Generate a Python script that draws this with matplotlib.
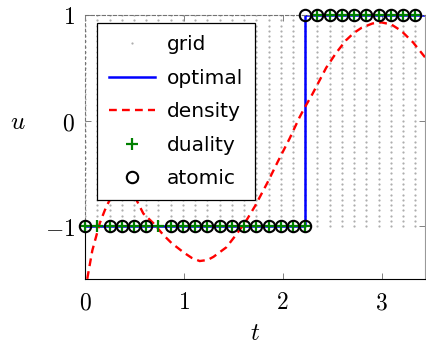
import matplotlib
matplotlib.use("Agg")
import matplotlib.pyplot as plt
import numpy as np

plt.rcParams['mathtext.fontset'] = 'cm'

# ---- data ----
t_nodes = [0.000, 0.124, 0.248, 0.371, 0.495, 0.619, 0.743, 0.867, 0.990,
           1.114, 1.238, 1.362, 1.486, 1.609, 1.733, 1.857, 1.981, 2.105,
           2.228, 2.352, 2.476, 2.600, 2.724, 2.847, 2.971, 3.095, 3.219, 3.343]
u_levels = [-1.00, -0.95, -0.90, -0.85, -0.80, -0.75, -0.70, -0.65, -0.60,
            -0.55, -0.50, -0.45, -0.40, -0.35, -0.30, -0.25, -0.20, -0.15,
            -0.10, -0.05, 0.00, 0.05, 0.10, 0.15, 0.20, 0.25, 0.30, 0.35,
            0.40, 0.45, 0.50, 0.55, 0.60, 0.65, 0.70, 0.75, 0.80, 0.85,
            0.90, 0.95, 1.00]

optimal_t = [0.0, 2.228, 2.228, 3.44]
optimal_u = [-1, -1, 1, 1]

density_t = [0.00, 0.03, 0.074, 0.15, 0.20, 0.25, 0.30, 0.385, 0.47, 0.52,
             0.59, 0.69, 0.79, 0.876, 1.00, 1.08, 1.16, 1.24, 1.30, 1.43,
             1.53, 1.63, 1.72, 1.85, 1.95, 2.07, 2.17, 2.215, 2.30, 2.44,
             2.54, 2.64, 2.72, 2.80, 2.91, 3.00, 3.10, 3.20, 3.32, 3.44]
density_u = [-1.62, -1.46, -1.23, -0.97, -0.85, -0.75, -0.68, -0.63, -0.67, -0.75,
             -0.88, -0.97, -1.08, -1.16, -1.25, -1.30, -1.33, -1.32, -1.29, -1.20,
             -1.08, -0.95, -0.81, -0.58, -0.39, -0.17, 0.03, 0.11, 0.25, 0.50,
             0.64, 0.76, 0.83, 0.88, 0.92, 0.93, 0.91, 0.85, 0.74, 0.60]

duality_u = [-1] * 19 + [1] * 9

atomic_idx = [0, 2, 3, 4, 5, 7, 8, 9, 10, 11, 12, 13, 14, 15, 16, 17, 18,
              18, 19, 20, 21, 22, 23, 24, 25, 26, 27]
atomic_u = [-1] * 17 + [1] * 10

x_ticks = [0, 1, 2, 3]
y_ticks = [-1, 0, 1]

# ---- figure ----
fig = plt.figure(figsize=(4.26, 3.46), dpi=100)
ax = fig.add_axes([85 / 426, 67 / 346, 340 / 426, 264 / 346])

ax.set_xlim(0, 3.44)
ax.set_ylim(-1.5, 1)

gt, gu = np.meshgrid(t_nodes, u_levels)
ax.plot(gt.ravel(), gu.ravel(), linestyle='none', marker='o', ms=1.6,
        mew=0, color='#adadad', label='grid', zorder=1)

# dashed boundary of the grid region
ax.plot([0, 0], [-1, 1], color='0.45', lw=0.8, ls=(0, (3, 2)), zorder=1.5,
        clip_on=False)

ax.plot(optimal_t, optimal_u, color='#0000ff', lw=1.8, label='optimal', zorder=2)
ax.plot(density_t, density_u, color='#ff0000', lw=1.7, ls=(0, (3.3, 2.2)),
        label='density', zorder=3)
ax.plot(t_nodes, duality_u, linestyle='none', marker='+', ms=8, mew=1.6,
        color='#008000', label='duality', zorder=4, clip_on=False)
atomic_t = [t_nodes[i] for i in atomic_idx]
ax.plot(atomic_t, atomic_u, linestyle='none', marker='o', ms=8.2, mew=1.5,
        mfc='none', mec='black', label='atomic', zorder=5, clip_on=False)

# spines
ax.spines['left'].set_bounds(-1.5, -1)
ax.spines['left'].set_color('black')
ax.spines['bottom'].set_color('black')
ax.spines['top'].set_color('0.45')
ax.spines['top'].set_linestyle((0, (3, 2)))
ax.spines['right'].set_color('0.6')
for s in ax.spines.values():
    s.set_linewidth(0.8)

ax.set_xticks(x_ticks)
ax.set_xticklabels([f'${v}$' for v in x_ticks])
ax.set_yticks(y_ticks)
ax.set_yticklabels([f'${v}$' if v >= 0 else f'$-{abs(v)}$' for v in y_ticks])
ax.tick_params(direction='in', length=4.3, width=0.7, color='0.5',
               top=True, right=True, labelsize=17)
ax.tick_params(axis='x', pad=8)
ax.tick_params(axis='y', pad=7)

ax.set_xlabel('$t$', fontsize=18)
ax.xaxis.set_label_coords(0.5, -0.205)
ax.xaxis.label.set_va('center')
ax.set_ylabel('$u$', fontsize=18, rotation=0)
ax.yaxis.set_label_coords(-0.197, 0.595)
ax.yaxis.label.set_va('center')
ax.yaxis.label.set_ha('center')

leg = ax.legend(loc='upper left', bbox_to_anchor=(12 / 340, 1 - 8 / 264),
                frameon=True, fancybox=False, edgecolor='black',
                framealpha=1, borderaxespad=0, handlelength=2.3,
                labelspacing=0.72, borderpad=0.6, handletextpad=0.55,
                prop={'family': 'DejaVu Sans', 'size': 14.5})
leg.get_frame().set_linewidth(0.9)
leg.set_zorder(10)

fig.savefig('out.png', dpi=100)
